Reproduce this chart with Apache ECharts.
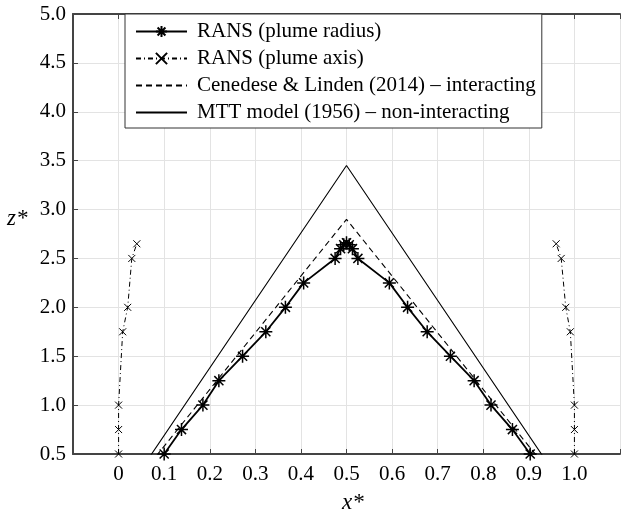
<!DOCTYPE html>
<html>
<head>
<meta charset="utf-8">
<script src="https://cdn.jsdelivr.net/npm/echarts@6/dist/echarts.min.js"></script>
<style>
  html, body { margin: 0; padding: 0; background: #fff; }
  #chart { width: 623px; height: 516px; }
</style>
</head>
<body>
<div id="chart"></div>
<script>
// RANS plume radius (left branch, peak, right branch)
const radiusX = [0.1, 0.138, 0.185, 0.22, 0.272, 0.323, 0.366, 0.406, 0.475, 0.487, 0.494, 0.5, 0.506, 0.513, 0.525, 0.594, 0.634, 0.677, 0.728, 0.78, 0.817, 0.864, 0.903];
const radiusZ = [0.5, 0.75, 1.0, 1.25, 1.5, 1.75, 2.0, 2.25, 2.5, 2.6, 2.64, 2.66, 2.64, 2.6, 2.5, 2.25, 2.0, 1.75, 1.5, 1.25, 1.0, 0.75, 0.5];
// RANS plume axis, two plumes
const axisLeftX = [0, 0, 0, 0.009, 0.02, 0.029, 0.04];
const axisRightX = [1.0, 1.0, 1.0, 0.991, 0.981, 0.971, 0.96];
const axisZ = [0.5, 0.75, 1.0, 1.75, 2.0, 2.5, 2.65];
// Cenedese & Linden (2014)
const cenedeseX = [0, 0.5, 1.0];
const cenedeseZ = [0, 2.9, 0];
// MTT model (1956)
const mttX = [0, 0.5, 1.0];
const mttZ = [0, 3.45, 0];

const serif = '"Liberation Serif", "DejaVu Serif", serif';
const STAR = 'path://M0,-10L0,10M-10,0L10,0M-7,-7L7,7M-7,7L7,-7';
const CROSS = 'path://M-10,-10L10,10M-10,10L10,-10';

function pairs(xs, ys) {
    return xs.map((x, i) => [x, ys[i]]);
}

const chart = echarts.init(document.getElementById('chart'));
chart.setOption({
    animation: false,
    grid: {
        left: 73,
        top: 14,
        width: 558,
        height: 440,
    },
    legend: {
        left: 125,
        top: 14,
        orient: 'vertical',
        padding: [7, 6, 5, 10],
        itemGap: 6,
        itemWidth: 51,
        itemHeight: 14,
        backgroundColor: '#fff',
        borderColor: '#333',
        borderWidth: 1,
        borderRadius: 0,
        textStyle: {
            fontFamily: serif,
            fontSize: 21,
            color: '#000',
            padding: [0, 0, 0, 5],
        },
        data: [
            {name: 'RANS (plume radius)'},
            {name: 'RANS (plume axis)'},
            {name: 'Cenedese & Linden (2014) – interacting', itemStyle: {opacity: 0}},
            {name: 'MTT model (1956) – non-interacting', itemStyle: {opacity: 0}},
        ],
    },
    xAxis: [
        {
            type: 'value',
            min: -0.1,
            max: 1.1,
            interval: 0.1,
            axisLine: {show: true, onZero: false, lineStyle: {color: '#444', width: 2}},
            axisTick: {show: true, inside: true, length: 5, lineStyle: {color: '#444', width: 1}},
            axisLabel: {
                fontFamily: serif,
                fontSize: 21,
                color: '#000',
                margin: 10,
                formatter: (v) => {
                    if (v < -0.05 || v > 1.05) return '';
                    return Math.abs(v) < 1e-9 ? '0' : v.toFixed(1);
                },
            },
            splitLine: {show: true, lineStyle: {color: '#e3e3e3', width: 1}},
        },
        {
            type: 'value',
            position: 'top',
            min: -0.1,
            max: 1.1,
            interval: 0.1,
            axisLine: {show: true, onZero: false, lineStyle: {color: '#444', width: 2}},
            axisTick: {show: true, inside: true, length: 5, lineStyle: {color: '#444', width: 1}},
            axisLabel: {show: false},
            splitLine: {show: false},
        },
    ],
    yAxis: {
        type: 'value',
        min: 0.5,
        max: 5.0,
        interval: 0.5,
        axisLine: {show: true, onZero: false, lineStyle: {color: '#444', width: 2}},
        axisTick: {show: true, inside: true, length: 5, lineStyle: {color: '#444', width: 1}},
        axisLabel: {
            fontFamily: serif,
            fontSize: 21,
            color: '#000',
            margin: 7,
            formatter: (v) => v.toFixed(1),
        },
        splitLine: {show: true, lineStyle: {color: '#e3e3e3', width: 1}},
    },
    graphic: [
        {
            type: 'text',
            left: 342,
            top: 491,
            style: {text: 'x*', fontFamily: serif, fontSize: 23, fontStyle: 'italic', fill: '#000'},
        },
        {
            type: 'text',
            left: 7,
            top: 207,
            style: {text: 'z*', fontFamily: serif, fontSize: 23, fontStyle: 'italic', fill: '#000'},
        },
    ],
    series: [
        {
            name: 'MTT model (1956) – non-interacting',
            type: 'line',
            clip: true,
            symbol: 'none',
            lineStyle: {color: '#000', width: 1.1},
            itemStyle: {color: '#000'},
            data: pairs(mttX, mttZ),
        },
        {
            name: 'Cenedese & Linden (2014) – interacting',
            type: 'line',
            clip: true,
            symbol: 'none',
            lineStyle: {color: '#000', width: 1.1, type: [6, 4]},
            itemStyle: {color: '#000'},
            data: pairs(cenedeseX, cenedeseZ),
        },
        {
            name: 'RANS (plume radius)',
            type: 'line',
            clip: true,
            symbol: STAR,
            symbolSize: 13,
            lineStyle: {color: '#000', width: 1.8},
            itemStyle: {color: '#000', borderColor: '#000', borderWidth: 1.5},
            data: pairs(radiusX, radiusZ),
        },
        {
            name: 'RANS (plume axis)',
            type: 'line',
            clip: true,
            symbol: CROSS,
            symbolSize: 7,
            lineStyle: {color: '#000', width: 1, type: [5, 3, 1, 3]},
            itemStyle: {color: '#000', borderColor: '#000', borderWidth: 1},
            data: pairs(axisLeftX, axisZ),
        },
        {
            name: 'RANS (plume axis)',
            type: 'line',
            clip: true,
            symbol: CROSS,
            symbolSize: 7,
            lineStyle: {color: '#000', width: 1, type: [5, 3, 1, 3]},
            itemStyle: {color: '#000', borderColor: '#000', borderWidth: 1},
            data: pairs(axisRightX, axisZ),
        },
    ],
});
</script>
</body>
</html>
